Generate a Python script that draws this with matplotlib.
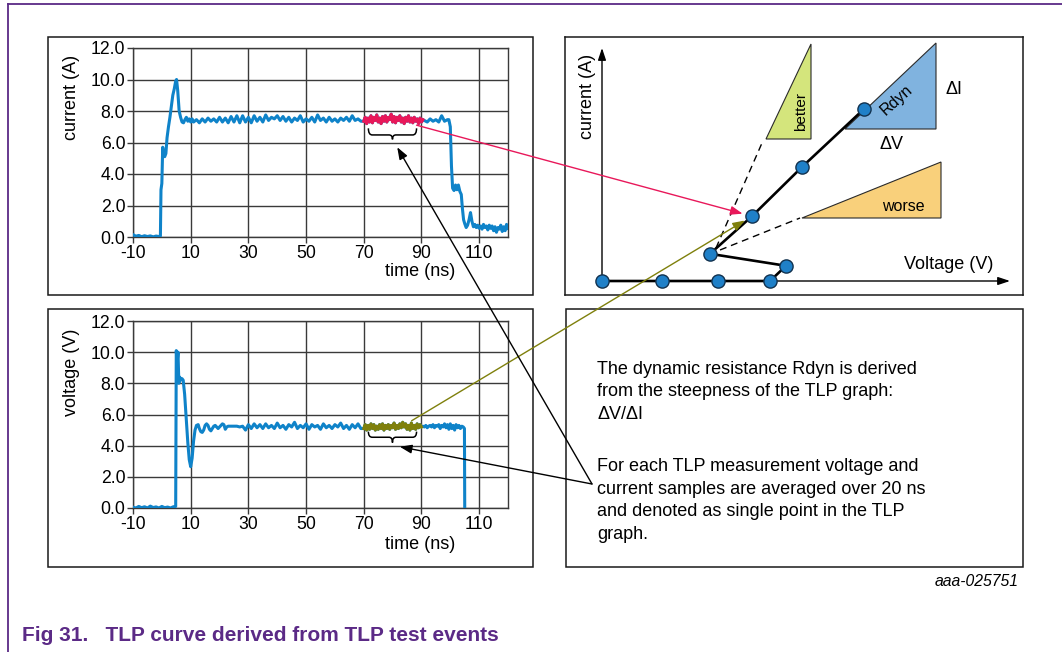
import numpy as np
import matplotlib.pyplot as plt
from matplotlib.patches import Polygon, PathPatch, Rectangle, ConnectionPatch
from matplotlib.path import Path

plt.rcParams['font.family'] = ['Liberation Sans', 'DejaVu Sans']
plt.rcParams['axes.unicode_minus'] = False

# ---------------------------------------------------------------
# datos: corriente TLP (A) vs tiempo (ns)
# ---------------------------------------------------------------
cur_base = [0.15, 0.05, 0.10, 0.02, 0.08, 0.03, 0.07, 0.01, 0.06, 0.03]
t_rise = [-0.5, -0.3, 0.0, 0.3, 0.6, 1.0, 1.4, 1.8, 2.3, 2.8, 3.3, 3.8, 4.3,
          4.8, 5.1, 5.5, 6.0, 6.5, 7.0, 7.5, 8.0, 8.5, 9.0, 9.5, 10.0, 10.5]
cur_rise = [0.05, 3.0, 3.4, 5.7, 5.2, 5.1, 5.3, 6.3, 7.0, 7.6, 8.3, 9.0, 9.4,
            9.9, 10.0, 9.3, 8.0, 7.6, 7.3, 7.25, 7.45, 7.6, 7.35, 7.5, 7.3, 7.5]
cur_flat = [7.3, 7.45, 7.25, 7.5, 7.3, 7.55, 7.35, 7.5, 7.3, 7.6,
            7.3, 7.55, 7.25, 7.65, 7.3, 7.7, 7.25, 7.7, 7.3, 7.6,
            7.25, 7.7, 7.35, 7.6, 7.3, 7.75, 7.4, 7.6, 7.5, 7.7,
            7.4, 7.65, 7.35, 7.6, 7.3, 7.55, 7.4, 7.7, 7.3, 7.5,
            7.35, 7.6, 7.3, 7.75, 7.4, 7.55, 7.3, 7.6, 7.35, 7.5,
            7.3, 7.55, 7.4, 7.6, 7.35, 7.7, 7.4, 7.5, 7.35]
cur_avg = [7.35, 7.6, 7.2, 7.55, 7.3, 7.7, 7.25, 7.6, 7.4, 7.75,
           7.3, 7.55, 7.2, 7.65, 7.35, 7.7, 7.3, 7.6, 7.45, 7.8,
           7.3, 7.65, 7.25, 7.6, 7.4, 7.7, 7.3, 7.55, 7.2, 7.6,
           7.35, 7.7, 7.3, 7.55, 7.25, 7.6, 7.35, 7.5, 7.2, 7.55,
           7.3, 7.45]
cur_late = [7.4, 7.3, 7.5, 7.35, 7.45, 7.3, 7.7, 7.35, 7.45]
t_drop = [99.5, 100.0, 100.4, 100.8, 101.3, 101.8, 102.3, 102.8, 103.3, 103.8,
          104.2, 104.6, 105.0, 105.5, 106.0, 106.5, 107.0, 107.5, 108.0]
cur_drop = [7.45, 7.0, 4.5, 3.1, 2.95, 3.3, 3.0, 3.3, 2.9, 2.7,
            1.8, 1.1, 0.85, 0.6, 0.75, 1.1, 1.55, 1.0, 0.65]
cur_tail = [0.8, 0.6, 0.75, 0.55, 0.7, 0.5, 0.8, 0.6, 0.7, 0.45, 0.75, 0.55,
            0.7, 0.4, 0.65, 0.3, 0.6, 0.5, 0.75, 0.35, 0.65, 0.4, 0.8, 0.55]

t_cur = np.concatenate([np.arange(-10, 0, 1.0), t_rise, np.arange(11, 70, 1.0),
                        np.arange(70, 91, 0.5), np.arange(91, 100, 1.0), t_drop,
                        np.arange(108.5, 120.5, 0.5)])
cur = np.concatenate([cur_base, cur_rise, cur_flat, cur_avg, cur_late, cur_drop, cur_tail])

# ---------------------------------------------------------------
# datos: voltaje TLP (V) vs tiempo (ns)
# ---------------------------------------------------------------
volt_base = [0.05, 0.0, 0.1, 0.02, 0.08, 0.0, 0.12, 0.03, 0.07, 0.0, 0.1, 0.02, 0.06, 0.0, 0.08]
t_spike = [4.8, 5.0, 5.3, 5.6, 5.9, 6.2, 6.5, 7.0, 7.4, 7.9, 8.5, 9.0, 9.5, 10.0,
           10.5, 11.0, 11.5, 12.0, 12.6]
volt_spike = [0.1, 10.1, 9.3, 10.0, 8.0, 8.4, 8.2, 8.3, 8.2, 7.3, 5.6, 4.2, 3.1, 2.65,
              3.2, 4.3, 5.0, 5.3, 5.35]
volt_settle = [5.1, 4.9, 4.85, 5.0, 5.3, 5.4, 5.3, 5.05, 4.95, 5.1,
               5.25, 5.3, 5.2, 5.1, 5.2, 5.3, 5.4, 5.35, 5.05, 5.2]
volt_flat = [5.25, 5.25, 5.25, 5.25, 5.2, 5.25, 5.0, 5.35, 5.1, 5.4,
             5.15, 5.35, 5.1, 5.4, 5.15, 5.3, 5.1, 5.45, 5.15, 5.3,
             5.05, 5.35, 5.2, 5.5, 5.1, 5.3, 5.15, 5.4, 5.05, 5.35,
             5.2, 5.3, 5.05, 5.4, 5.15, 5.3, 5.1, 5.35, 5.2, 5.45,
             5.1, 5.3, 5.05, 5.35, 5.15, 5.4, 5.1]
volt_avg = [5.1, 5.35, 5.0, 5.3, 5.05, 5.4, 5.1, 5.35, 5.0, 5.25,
            5.05, 5.35, 5.1, 5.4, 5.0, 5.3, 5.1, 5.35, 5.05, 5.3,
            5.15, 5.45, 5.05, 5.3, 5.1, 5.4, 5.15, 5.5, 5.2, 5.4,
            5.05, 5.3, 5.0, 5.45, 5.1, 5.3, 5.05, 5.4, 5.15, 5.35,
            5.2]
volt_late = [5.25, 5.2, 5.3, 5.15, 5.25, 5.3, 5.2, 5.35, 5.15, 5.3,
             5.25, 5.35, 5.1, 5.3, 5.2, 5.4, 5.15, 5.35, 5.05, 5.4,
             5.1, 5.3, 5.0, 5.35, 5.15, 5.3, 5.1, 5.25, 5.2]
t_fall = [104.9, 105.0]
volt_fall = [5.1, 0.0]

t_volt = np.concatenate([np.arange(-10, 5, 1.0), t_spike, np.arange(13, 23, 0.5),
                         np.arange(23, 70, 1.0), np.arange(70, 90.5, 0.5),
                         np.arange(90.5, 105, 0.5), t_fall])
volt = np.concatenate([volt_base, volt_spike, volt_settle, volt_flat, volt_avg, volt_late, volt_fall])

x_ticks = [-10, 10, 30, 50, 70, 90, 110]
y_ticks = [0, 2, 4, 6, 8, 10, 12]

# grafica TLP esquematica (unidades arbitrarias)
tlp_v = [0, 1.5, 2.9, 4.2, 4.6, 2.7, 3.75, 5.0, 6.55]
tlp_i = [0, 0, 0, 0, 0.38, 0.68, 1.62, 2.85, 4.3]
tri_rdyn = [(6.075, 3.8), (8.35, 5.95), (8.35, 3.8)]
tri_better = [(4.1, 3.55), (5.225, 5.925), (5.225, 3.55)]
tri_worse = [(5.0, 1.575), (8.475, 2.975), (8.475, 1.575)]

texto1 = ['The dynamic resistance Rdyn is derived',
          'from the steepness of the TLP graph:',
          '\u0394V/\u0394I']
texto2 = ['For each TLP measurement voltage and',
          'current samples are averaged over 20 ns',
          'and denoted as single point in the TLP',
          'graph.']

azul = '#0F83C9'
rojo = '#E8185A'
oliva = '#7F800C'
morado = '#5B2A86'
rejilla = '#3a3a3a'

W, H = 1062, 652


def px(l, t, r, b):
    return [l / W, 1 - b / H, (r - l) / W, (b - t) / H]


def llave(ax, x0, x1, ytop, ymid, ytip):
    xc = (x0 + x1) / 2
    w = x1 - x0
    verts = [(x0, ytop), (x0, ymid), (x0 + 0.08 * w, ymid),
             (xc - 0.07 * w, ymid), (xc, ymid), (xc, ytip),
             (xc, ymid), (xc + 0.07 * w, ymid),
             (x1 - 0.08 * w, ymid), (x1, ymid), (x1, ytop)]
    codes = [Path.MOVETO, Path.CURVE3, Path.CURVE3, Path.LINETO, Path.CURVE3, Path.CURVE3,
             Path.CURVE3, Path.CURVE3, Path.LINETO, Path.CURVE3, Path.CURVE3]
    ax.add_patch(PathPatch(Path(verts, codes), fill=False, lw=1.1, ec='k', zorder=6))


fig = plt.figure(figsize=(W / 100, H / 100), dpi=100)

# fondo en pixeles: marco morado, cajas, textos
ax_bg = fig.add_axes([0, 0, 1, 1])
ax_bg.set_xlim(0, W)
ax_bg.set_ylim(H, 0)
ax_bg.axis('off')
ax_bg.plot([8, 8], [4, H], color=morado, lw=1.3)
ax_bg.plot([8, W], [4, 4], color=morado, lw=1.3)
for (l, t, r, b) in [(48, 37, 533, 295), (48, 309, 533, 567), (566, 309, 1023, 567)]:
    ax_bg.add_patch(Rectangle((l, t), r - l, b - t, fill=False, ec='#1a1a1a', lw=1.1))

for k, linea in enumerate(texto1):
    ax_bg.text(597, 373.6 + k * 22.6, linea, fontsize=13, va='baseline', ha='left')
for k, linea in enumerate(texto2):
    ax_bg.text(597, 471.2 + k * 22.6, linea, fontsize=13, va='baseline', ha='left')
ax_bg.text(1019, 586, 'aaa-025751', fontsize=11.3, style='italic', ha='right', va='baseline')
ax_bg.text(22, 641, 'Fig 31.   TLP curve derived from TLP test events', fontsize=15,
           fontweight='bold', color=morado, ha='left', va='baseline')


def grafica(rect, t, y, mask, color_hi, ylabel, ylab_y, xlab_y):
    ax = fig.add_axes(px(*rect))
    ax.plot(t, y, color=azul, lw=2.2, zorder=3)
    ax.plot(t[mask], y[mask], color=color_hi, lw=2.2, zorder=4)
    ax.set_xlim(-10, 120)
    ax.set_ylim(0, 12)
    ax.set_xticks(x_ticks)
    ax.set_yticks(y_ticks)
    ax.set_yticklabels(['%.1f' % v for v in y_ticks])
    ax.grid(True, color=rejilla, lw=1.0)
    ax.set_axisbelow(True)
    for s in ax.spines.values():
        s.set_color(rejilla)
        s.set_linewidth(1.0)
    ax.tick_params(axis='both', labelsize=12.7, length=4, width=1.0, color=rejilla)
    ax.tick_params(axis='x', pad=1.5)
    ax.tick_params(axis='y', pad=1.5)
    ax.text(-0.163, ylab_y, ylabel, rotation=90, fontsize=13, ha='center', va='center',
            transform=ax.transAxes)
    ax.text(0.765, xlab_y, 'time (ns)', fontsize=13, ha='center', va='center',
            transform=ax.transAxes)
    return ax


ax_cur = grafica((133, 48, 508, 237), t_cur, cur, (t_cur >= 70) & (t_cur <= 90.5), rojo,
                 'current (A)', 0.74, -0.184)
ax_volt = grafica((133, 321, 508, 508), t_volt, volt, (t_volt >= 70) & (t_volt <= 90), oliva,
                  'voltage (V)', 0.727, -0.193)

llave(ax_cur, 71.6, 88.3, 6.9, 6.48, 6.2)
llave(ax_volt, 71.6, 88.3, 4.9, 4.54, 4.2)

# grafica TLP esquematica
ax_tlp = fig.add_axes(px(565, 37, 1023, 295))
ax_tlp.set_xlim(-0.925, 10.525)
ax_tlp.set_ylim(-0.35, 6.1)
ax_tlp.set_xticks([])
ax_tlp.set_yticks([])
for s in ax_tlp.spines.values():
    s.set_color('#1a1a1a')
    s.set_linewidth(1.1)

ax_tlp.add_patch(Polygon(tri_rdyn, closed=True, fc='#80B3DF', ec='#2a2a2a', lw=0.8))
ax_tlp.add_patch(Polygon(tri_better, closed=True, fc='#D4E57C', ec='#2a2a2a', lw=0.8))
ax_tlp.add_patch(Polygon(tri_worse, closed=True, fc='#F9D07B', ec='#2a2a2a', lw=0.8))
ax_tlp.plot([2.85, 4.0], [0.825, 3.45], color='k', lw=1.0, dashes=(5, 3.5))
ax_tlp.plot([2.95, 4.95], [0.775, 1.575], color='k', lw=1.0, dashes=(5, 3.5))

flecha_eje = dict(arrowstyle='-|>,head_length=0.6,head_width=0.2', color='k', lw=1.0,
                  mutation_scale=12, shrinkA=0, shrinkB=0)
ax_tlp.annotate('', xy=(0, 5.825), xytext=(0, 0), arrowprops=flecha_eje)
ax_tlp.annotate('', xy=(10.2, 0), xytext=(-0.125, 0), arrowprops=flecha_eje)

ax_tlp.plot(tlp_v, tlp_i, color='k', lw=1.9, zorder=4)
ax_tlp.plot(tlp_v, tlp_i, 'o', ms=9.5, mfc='#1F80C8', mec='#12324f', mew=1.0, zorder=5)

ax_tlp.text(8.675, 0.4, 'Voltage (V)', fontsize=13, ha='center', va='center')
ax_tlp.text(-0.35, 4.61, 'current (A)', fontsize=13, rotation=90, ha='center', va='center')
ax_tlp.text(7.37, 4.525, 'Rdyn', fontsize=11.5, rotation=42, ha='center', va='center')
ax_tlp.text(8.81, 4.775, '\u0394I', fontsize=13, ha='center', va='center')
ax_tlp.text(7.24, 3.42, '\u0394V', fontsize=13, ha='center', va='center')
ax_tlp.text(4.97, 4.23, 'better', fontsize=11, rotation=90, ha='center', va='center')
ax_tlp.text(7.53, 1.86, 'worse', fontsize=11.5, ha='center', va='center')

# flechas entre paneles
estilo = '-|>,head_length=0.6,head_width=0.22'
fig.add_artist(ConnectionPatch(xyA=(88.3, 7.1), coordsA=ax_cur.transData,
                               xyB=(tlp_v[6], tlp_i[6]), coordsB=ax_tlp.transData,
                               arrowstyle=estilo, color=rojo, lw=1.0, mutation_scale=12,
                               shrinkA=0, shrinkB=7))
fig.add_artist(ConnectionPatch(xyA=(86.6, 5.6), coordsA=ax_volt.transData,
                               xyB=(tlp_v[6], tlp_i[6]), coordsB=ax_tlp.transData,
                               arrowstyle=estilo, color=oliva, lw=1.0, mutation_scale=12,
                               shrinkA=0, shrinkB=6))
fig.add_artist(ConnectionPatch(xyA=(592, 484), coordsA=ax_bg.transData,
                               xyB=(81.6, 5.7), coordsB=ax_cur.transData,
                               arrowstyle=estilo, color='k', lw=1.0, mutation_scale=12,
                               shrinkA=0, shrinkB=0))
fig.add_artist(ConnectionPatch(xyA=(592, 484), coordsA=ax_bg.transData,
                               xyB=(82.5, 3.93), coordsB=ax_volt.transData,
                               arrowstyle=estilo, color='k', lw=1.0, mutation_scale=12,
                               shrinkA=0, shrinkB=0))

fig.savefig('out.png', dpi=100)
